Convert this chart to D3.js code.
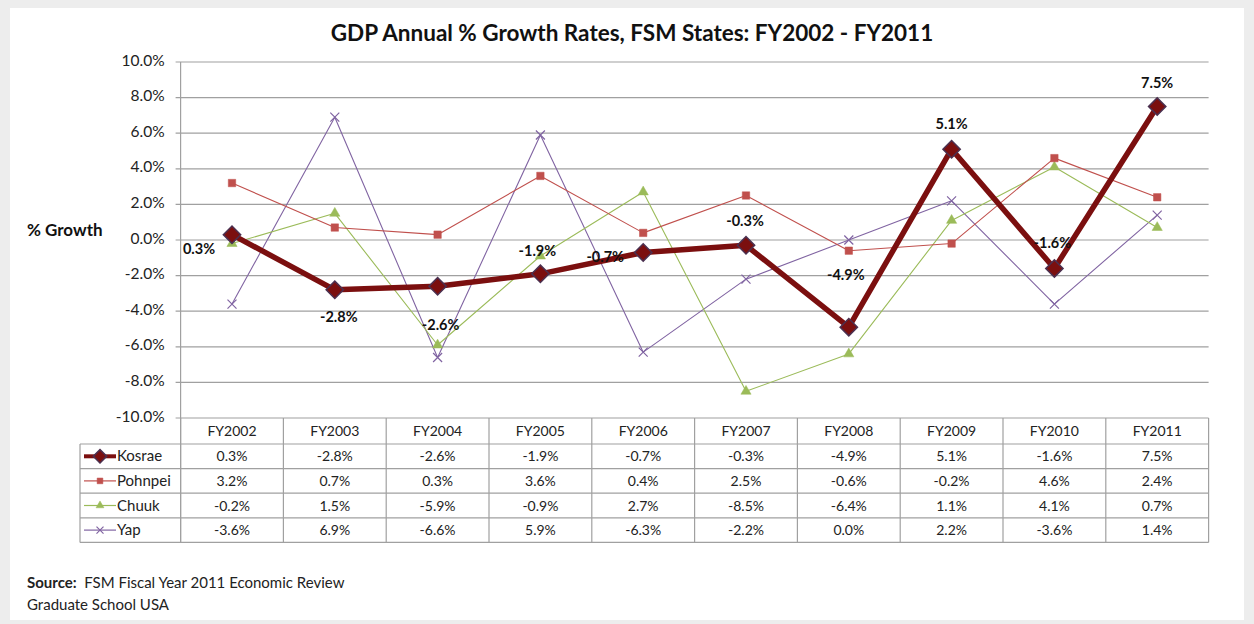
<!DOCTYPE html>
<html><head><meta charset="utf-8">
<script src="https://cdn.jsdelivr.net/npm/d3@7"></script>
<style>
html,body{margin:0;padding:0;background:#ededed;}
svg{display:block;font-family:Lato,"Open Sans",sans-serif;}
</style></head>
<body><svg id="c" width="1254" height="624"></svg>
<script>
const categories = ["FY2002","FY2003","FY2004","FY2005","FY2006","FY2007","FY2008","FY2009","FY2010","FY2011"];
const kosrae  = [0.3,-2.8,-2.6,-1.9,-0.7,-0.3,-4.9,5.1,-1.6,7.5];
const pohnpei = [3.2,0.7,0.3,3.6,0.4,2.5,-0.6,-0.2,4.6,2.4];
const chuuk   = [-0.2,1.5,-5.9,-0.9,2.7,-8.5,-6.4,1.1,4.1,0.7];
const yap     = [-3.6,6.9,-6.6,5.9,-6.3,-2.2,0.0,2.2,-3.6,1.4];
const seriesNames = ["Kosrae","Pohnpei","Chuuk","Yap"];
const yTicks = [-10,-8,-6,-4,-2,0,2,4,6,8,10];
// Kosrae data label placement (offset from point)
const labelDx = [-33,4,3,-3,-38,-1,-3,0,-2,0];
const labelDy = [14,27,39,-23,5,-24,-52,-25,-25,-24];

const seriesData = [kosrae,pohnpei,chuuk,yap];
const styles = [
  {color:"#7b0f0f", width:5.5, marker:"diamond", mfill:"#7b0f0f", mstroke:"#4b3050", size:150},
  {color:"#c0504d", width:1.1, marker:"square", mfill:"#c0504d", mstroke:"#c0504d", size:55},
  {color:"#9bbb59", width:1.1, marker:"triangle", mfill:"#9bbb59", mstroke:"#9bbb59", size:45},
  {color:"#8064a2", width:1.1, marker:"x", mfill:"none", mstroke:"#8064a2", size:8}
];
const pct = v => v.toFixed(1) + "%";

const svg = d3.select("#c");
svg.append("rect").attr("x",10).attr("y",8).attr("width",1234).attr("height",612).attr("fill","#fff");

const L=180.6, R=1208.6, T=62, B=418;
const x = d3.scaleBand().domain(categories).range([L,R]);
const y = d3.scaleLinear().domain([-10,10]).range([B,T]);
const cx = d => x(d)+x.bandwidth()/2;

svg.append("text").attr("x",632).attr("y",41).attr("text-anchor","middle")
  .attr("font-size",22.5).attr("font-weight","bold").attr("fill","#111")
  .text("GDP Annual % Growth Rates, FSM States: FY2002 - FY2011");

const grid = svg.append("g");
yTicks.forEach(t=>{
  grid.append("line").attr("x1",L-5).attr("x2",R).attr("y1",y(t)).attr("y2",y(t))
    .attr("stroke","#a0a0a0").attr("stroke-width",1.2);
});
const yAxis = d3.axisLeft(y).tickValues(yTicks).tickFormat(pct).tickSize(0).tickPadding(16);
const ga = svg.append("g").attr("transform",`translate(${L},0)`).call(yAxis);
ga.select(".domain").remove();
ga.selectAll("text").attr("font-size",15.5).attr("fill","#222").attr("font-family","Lato,'Open Sans',sans-serif").attr("dy","0.2em");
svg.append("text").attr("x",27).attr("y",236).attr("font-size",17).attr("font-weight","bold").attr("fill","#111").text("% Growth");

const rowH = 24.6, headH = 26;
const tableBottom = B + headH + rowH*4;
const tg = svg.append("g").attr("font-size",14).attr("fill","#222");
categories.forEach((c,i)=>{
  tg.append("line").attr("x1",x(c)).attr("x2",x(c)).attr("y1",B).attr("y2",tableBottom).attr("stroke","#a0a0a0").attr("stroke-width",1.2);
});
tg.append("line").attr("x1",R).attr("x2",R).attr("y1",B).attr("y2",tableBottom).attr("stroke","#a0a0a0").attr("stroke-width",1.2);
tg.append("line").attr("x1",L).attr("x2",L).attr("y1",T).attr("y2",tableBottom).attr("stroke","#a0a0a0").attr("stroke-width",1.2);
tg.append("line").attr("x1",80).attr("x2",80).attr("y1",B+headH).attr("y2",tableBottom).attr("stroke","#a0a0a0").attr("stroke-width",1.2);
for(let r=0;r<=4;r++){
  const yy = B+headH+rowH*r;
  tg.append("line").attr("x1",80).attr("x2",R).attr("y1",yy).attr("y2",yy).attr("stroke","#a0a0a0").attr("stroke-width",1.2);
}
categories.forEach(c=>{
  tg.append("text").attr("x",cx(c)).attr("y",B+headH/2+5).attr("text-anchor","middle").attr("fill","#222").text(c);
});
seriesData.forEach((s,si)=>{
  const yy = B+headH+rowH*si+rowH/2+5;
  s.forEach((v,i)=>{
    tg.append("text").attr("x",cx(categories[i])).attr("y",yy).attr("text-anchor","middle").attr("fill","#222").text(pct(v));
  });
  const st = styles[si];
  const ly = yy-5;
  tg.append("line").attr("x1",84).attr("x2",116).attr("y1",ly).attr("y2",ly).attr("stroke",st.color).attr("stroke-width",si===0?4:1.2);
  drawMarker(tg,100,ly,st,0.6);
  tg.append("text").attr("x",117).attr("y",yy).attr("font-size",15).attr("fill","#222").text(seriesNames[si]);
});

function drawMarker(g,px,py,st,scale){
  if(st.marker==="x"){
    const k = scale===1? 4.5: 3.5;
    g.append("path").attr("d",`M${px-k},${py-k}L${px+k},${py+k}M${px-k},${py+k}L${px+k},${py-k}`).attr("stroke",st.mstroke).attr("stroke-width",1.2).attr("fill","none");
  } else {
    const type = st.marker==="triangle"?d3.symbolTriangle:d3.symbolSquare;
    const sym = d3.symbol().type(type).size(st.size*scale);
    g.append("path").attr("d",sym()).attr("fill",st.mfill).attr("stroke",st.mstroke).attr("stroke-width",st.marker==="diamond"?1.5:0.5)
      .attr("transform",`translate(${px},${py})`+(st.marker==="diamond"?" rotate(45)":""));
  }
}

const line = d3.line().x((d,i)=>cx(categories[i])).y(d=>y(d));
const plot = svg.append("g");
[3,2,1,0].forEach(si=>{
  const st = styles[si];
  plot.append("path").datum(seriesData[si]).attr("d",line).attr("fill","none")
    .attr("stroke",st.color).attr("stroke-width",st.width).attr("stroke-linejoin","round");
  seriesData[si].forEach((v,i)=>drawMarker(plot,cx(categories[i]),y(v),st,1));
});

kosrae.forEach((v,i)=>{
  plot.append("text").attr("x",cx(categories[i])+labelDx[i]).attr("y",y(v)+labelDy[i]+5)
    .attr("text-anchor","middle").attr("font-size",14.5).attr("font-weight","bold").attr("fill","#111")
    .text(pct(v));
});

const src = svg.append("text").attr("x",27).attr("y",588).attr("font-size",15).attr("fill","#222");
src.append("tspan").attr("font-weight","bold").text("Source:");
src.append("tspan").text("\u00a0 FSM Fiscal Year 2011 Economic Review");
svg.append("text").attr("x",27).attr("y",610).attr("font-size",15).attr("fill","#222").text("Graduate School USA");
</script></body></html>
